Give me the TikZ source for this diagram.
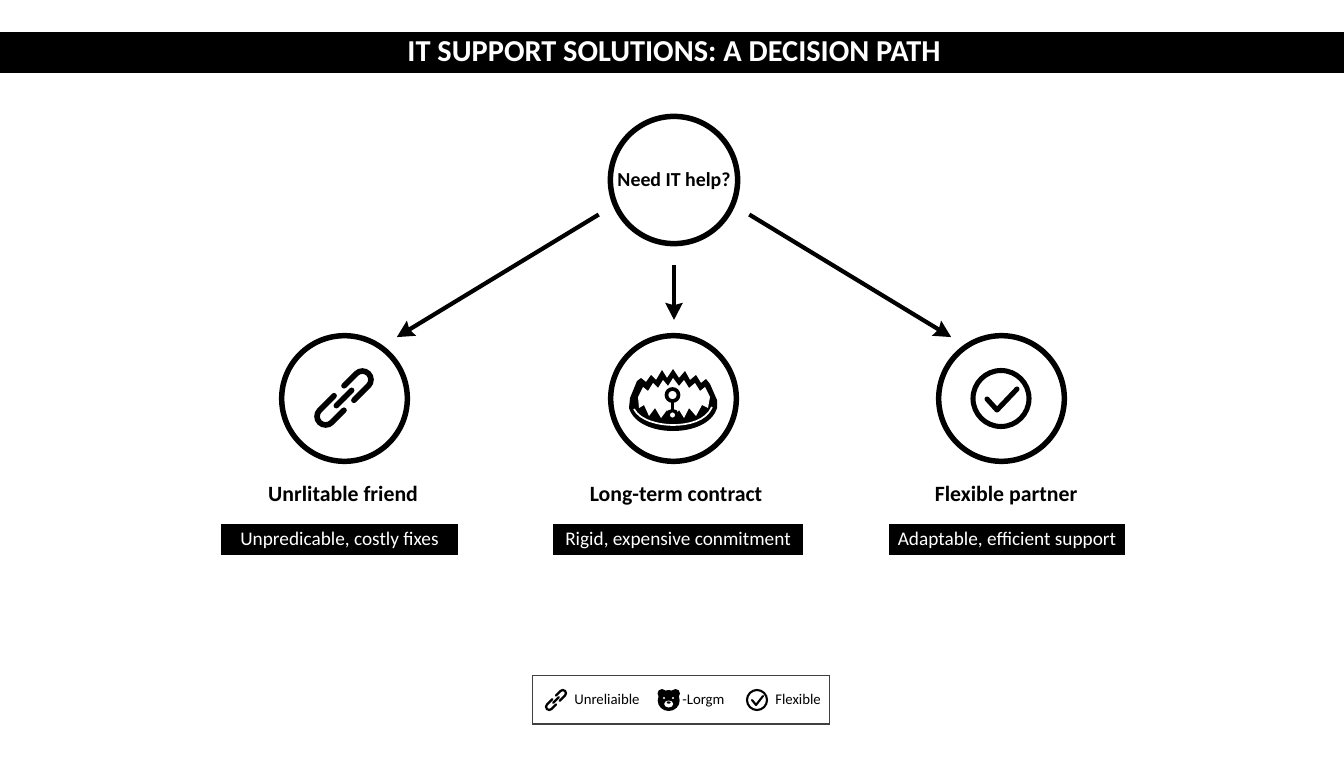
\documentclass[tikz,border=0pt]{standalone}
\usepackage{fontspec}
\setmainfont{Carlito}
\usetikzlibrary{calc}
\usetikzlibrary{arrows.meta}

\tikzset{
  bigcircle/.style={circle,draw=black,line width=3.9pt,minimum size=3.14cm,inner sep=0pt},
  pathline/.style={black,line width=3pt,-{Stealth[length=12pt,width=12pt,inset=1.5pt]}},
  label/.style={font=\fontsize{15.5}{18}\selectfont\bfseries,text=black,inner sep=0pt,anchor=base},
  bar/.style={fill=black,text=white,font=\fontsize{13.7}{17}\selectfont,minimum height=.775cm,inner sep=0pt,text height=10pt,text depth=1.2pt},
  legendtext/.style={font=\fontsize{10.5}{12}\selectfont,text=black,inner sep=0pt,anchor=base west},
}

\newcommand{\chainicon}[4]{
  \foreach \turn in {45,225}{
    \begin{scope}[shift={(#1,#2)},rotate=\turn,scale=#3]
      \draw[black,line width=#4,line cap=round] (8,8)--(24,8) arc (90:-90:8)--(5,-8);
      \draw[black,line width=#4,line cap=round] (0,0)--(10,0);
    \end{scope}
  }
}

\begin{document}
\begin{tikzpicture}[x=.025cm,y=.025cm]

\useasboundingbox (0,0) rectangle (1344,-768);
\fill[white] (0,0) rectangle (1344,-768);

\fill[black] (0,-32) rectangle (1344,-73);
\node[text=white,font=\fontsize{21.6}{24}\selectfont\bfseries,inner sep=0pt,text height=15pt,text depth=2pt] (title) at (674,-52.5) {IT SUPPORT SOLUTIONS: A DECISION PATH};

\node[bigcircle,minimum size=3.18cm,font=\fontsize{14.1}{17}\selectfont\bfseries,text height=10.6pt,text depth=2pt] (need) at (674,-180) {Need IT help?};
\node[bigcircle] (unreliable) at (344.5,-398.5) {};
\node[bigcircle] (trap) at (673.5,-398.5) {};
\node[bigcircle] (flexible) at (1001.5,-398.5) {};

\draw[pathline,shorten <=11.8pt,shorten >=11.4pt] (need.203)--(unreliable.54.8);
\draw[pathline,shorten <=13pt,shorten >=9.2pt] (need.south)--(need.south |- trap.north);
\draw[pathline,shorten <=11.8pt,shorten >=10.5pt] (need.337)--(flexible.125.2);

\node[label] (friend) at (343,-501.5) {Unrlitable friend};
\node[label] (contract) at (676,-501.5) {Long-term contract};
\node[label] (partner) at (1006,-501.5) {Flexible partner};

\node[bar,minimum width=5.925cm] (fixes) at (339.5,-539.5) {Unpredicable, costly fixes};
\node[bar,minimum width=6.25cm] (commit) at (678,-539.5) {Rigid, expensive conmitment};
\node[bar,minimum width=5.9cm] (support) at (1007,-539.5) {Adaptable, efficient support};

\chainicon{344}{-398}{1.08}{4pt}

\fill[black] (630,-398)--(637,-381)--(641,-378)--(646,-382)--(651,-375)--(656,-380)--(662,-370)--(667,-378)--(673,-369)--(679,-378)--(685,-371)--(690,-380)--(696,-375)--(701,-383)--(706,-379)--(710,-384)--(717,-400)--(717,-408)
  .. controls (712,-424) and (692,-431) .. (673,-431) .. controls (654,-431) and (634,-424) .. (629,-408)--cycle;
\fill[white] (638,-397)--(643,-387)--(648,-391)--(653,-383)--(658,-388)--(663,-380)--(668,-386)--(673,-378)--(679,-386)--(684,-380)--(689,-388)--(695,-383)--(700,-391)--(705,-387)--(710,-397)--(708,-408)--(702,-405)--(696,-416)--(689,-408)--(684,-418)--(679,-410)--(673,-419)--(667,-410)--(661,-418)--(655,-408)--(649,-416)--(644,-405)--(639,-408)--cycle;
\draw[white,line width=1.2pt] (634,-409) .. controls (640,-421) and (660,-425) .. (673,-425) .. controls (688,-425) and (706,-421) .. (712,-407);
\draw[black,line width=2.2pt] (672.5,-400)--(672.5,-412);
\draw[black,line width=2.6pt,fill=white] (672.5,-395) circle (6);
\draw[black,line width=2.4pt,fill=white] (672.5,-415) circle (4.5);

\draw[black,line width=3.6pt] (1001,-398.5) circle (28);
\draw[black,line width=3.6pt,line cap=round,line join=round] (987,-399)--(997,-410)--(1017,-389);

\node[draw=black!75,line width=1pt,fill=white,minimum width=7.425cm,minimum height=1.2125cm,inner sep=0pt] (legend) at (681,-699.75) {};

\chainicon{556}{-700}{.4}{1.6pt}
\node[legendtext] (legendone) at (574,-704) {Unreliaible};

\fill[black] (662,-693.5) circle (4.5);
\fill[black] (675.5,-693.5) circle (4.5);
\fill[black] (668.7,-700.5) ellipse (11 and 10.5);
\fill[white] (664,-698) circle (1.2);
\fill[white] (673,-698) circle (1.2);
\fill[white] (668.7,-704) ellipse (4.5 and 3.5);
\fill[black] (668.7,-702.5) ellipse (2 and 1.2);

\node[legendtext] (legendtwo) at (682,-704) {-Lorgm};

\draw[black,line width=1.5pt] (757,-700) circle (10);
\draw[black,line width=1.5pt,line cap=round,line join=round] (752,-700)--(756,-705)--(763,-696);
\node[legendtext] (legendthree) at (775,-704) {Flexible};

\end{tikzpicture}
\end{document}
